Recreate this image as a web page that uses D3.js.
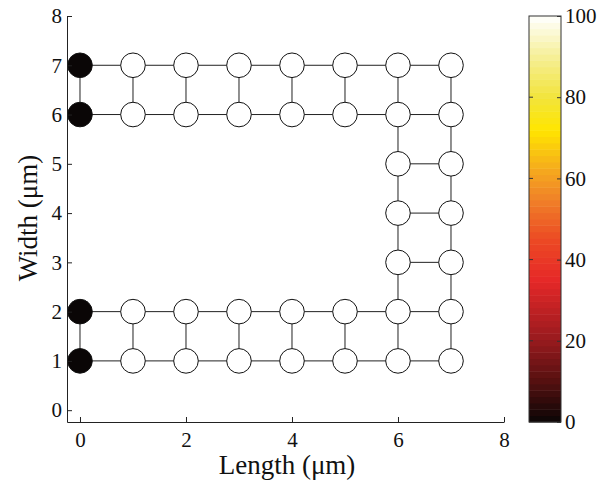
<!DOCTYPE html>
<html>
<head>
  <script src="https://d3js.org/d3.v7.min.js"></script>
  <style>
    body { margin: 0; background: #fff; }
  </style>
</head>
<body>
  <div id="chart"></div>
  <script>
    // node positions (µm) and their values (0-100)
    const nodeX = [0,1,2,3,4,5,6,7, 0,1,2,3,4,5,6,7, 6,7, 6,7, 6,7, 0,1,2,3,4,5,6,7, 0,1,2,3,4,5,6,7];
    const nodeY = [7,7,7,7,7,7,7,7, 6,6,6,6,6,6,6,6, 5,5, 4,4, 3,3, 2,2,2,2,2,2,2,2, 1,1,1,1,1,1,1,1];
    const nodeValue = [0,100,100,100,100,100,100,100, 0,100,100,100,100,100,100,100, 100,100, 100,100, 100,100,
                       0,100,100,100,100,100,100,100, 0,100,100,100,100,100,100,100];

    const xTicks = [0, 2, 4, 6, 8];
    const yTicks = [0, 1, 2, 3, 4, 5, 6, 7, 8];
    const cbTicks = [0, 20, 40, 60, 80, 100];

    // colormap stops
    const cmapValues = [0, 10, 20, 35, 45, 55, 62, 72, 80, 90, 100];
    const cmapColors = ["#0a0606", "#551010", "#961a1e", "#e62828", "#ec4a24", "#f08228", "#f5a91e", "#ffe600", "#f2e43c", "#f6ef96", "#ffffff"];

    const FONT = '"Liberation Serif", "DejaVu Serif", serif';
    const tickSize = "21px";

    const svg = d3.select("#chart").append("svg")
      .attr("width", 601).attr("height", 485);

    const x = d3.scaleLinear().domain([-0.245, 8]).range([67, 504]);
    const y = d3.scaleLinear().domain([-0.24, 8]).range([422, 16]);
    const color = d3.scaleLinear().domain(cmapValues).range(cmapColors);

    // edges: connect nodes one unit apart horizontally or vertically
    const nodes = nodeX.map((d, i) => ({ x: d, y: nodeY[i], v: nodeValue[i] }));
    const edges = [];
    nodes.forEach((a, i) => {
      nodes.forEach((b, j) => {
        if (j <= i) return;
        const dx = Math.abs(a.x - b.x), dy = Math.abs(a.y - b.y);
        if (dx + dy === 1) edges.push([a, b]);
      });
    });

    svg.append("g").selectAll("line").data(edges).enter().append("line")
      .attr("x1", d => x(d[0].x)).attr("y1", d => y(d[0].y))
      .attr("x2", d => x(d[1].x)).attr("y2", d => y(d[1].y))
      .attr("stroke", "#222").attr("stroke-width", 1);

    svg.append("g").selectAll("circle").data(nodes).enter().append("circle")
      .attr("cx", d => x(d.x)).attr("cy", d => y(d.y)).attr("r", 12.3)
      .attr("fill", d => color(d.v))
      .attr("stroke", "#111").attr("stroke-width", 1);

    // axes (inward ticks, no box)
    const xAxis = svg.append("g").attr("transform", "translate(0,422)")
      .call(d3.axisBottom(x).tickValues(xTicks).tickSizeInner(-5).tickSizeOuter(0).tickFormat(d3.format("d")));
    const yAxis = svg.append("g").attr("transform", "translate(67,0)")
      .call(d3.axisLeft(y).tickValues(yTicks).tickSizeInner(-5).tickSizeOuter(0).tickFormat(d3.format("d")));
    [xAxis, yAxis].forEach(a => {
      a.select(".domain").attr("stroke", "#222");
      a.selectAll(".tick line").attr("stroke", "#222");
      a.selectAll(".tick text").style("font-family", FONT).style("font-size", tickSize).attr("fill", "#111");
    });
    xAxis.selectAll(".tick text").attr("y", 10);
    yAxis.selectAll(".tick text").attr("x", -5);

    svg.append("text")
      .attr("x", 287).attr("y", 474).attr("text-anchor", "middle")
      .style("font-family", FONT).style("font-size", "27px").attr("fill", "#111")
      .text("Length (\u03bcm)");
    svg.append("text")
      .attr("transform", "translate(37,218) rotate(-90)").attr("text-anchor", "middle")
      .style("font-family", FONT).style("font-size", "27px").attr("fill", "#111")
      .text("Width (\u03bcm)");

    // colorbar
    const cbX = 529, cbW = 32;
    const cb = d3.scaleLinear().domain([0, 100]).range([422, 16]);
    const bands = d3.range(0, 100, 100 / 64);
    svg.append("g").selectAll("rect").data(bands).enter().append("rect")
      .attr("x", cbX).attr("width", cbW)
      .attr("y", d => cb(d + 100 / 64)).attr("height", d => cb(d) - cb(d + 100 / 64) + 0.5)
      .attr("fill", d => color(d + 50 / 64));
    svg.append("rect").attr("x", cbX).attr("y", 16).attr("width", cbW).attr("height", 406)
      .attr("fill", "none").attr("stroke", "#333").attr("stroke-width", 1);

    const cbAxis = svg.append("g").attr("transform", `translate(${cbX + cbW},0)`)
      .call(d3.axisRight(cb).tickValues(cbTicks).tickSizeInner(-4).tickSizeOuter(0));
    cbAxis.select(".domain").remove();
    cbAxis.selectAll(".tick line").attr("stroke", "#333");
    cbAxis.selectAll(".tick text").style("font-family", FONT).style("font-size", tickSize).attr("fill", "#111").attr("x", 4);
    svg.append("g").selectAll("line").data(cbTicks.slice(1, -1)).enter().append("line")
      .attr("x1", cbX).attr("x2", cbX + 4).attr("y1", d => cb(d)).attr("y2", d => cb(d))
      .attr("stroke", "#333");
  </script>
</body>
</html>
